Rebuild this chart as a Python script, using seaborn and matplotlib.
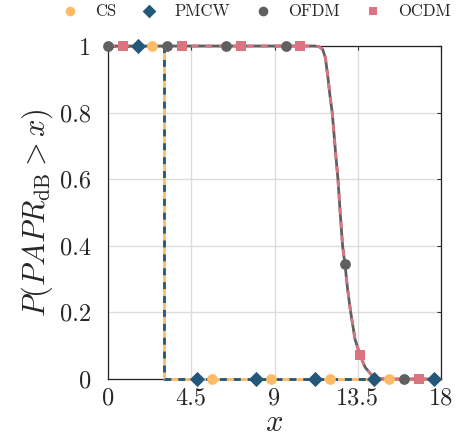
import numpy as np
import pandas as pd
import matplotlib
matplotlib.use("Agg")
import matplotlib.pyplot as plt
import seaborn as sns

# ---- data ----
step_x = [0, 3.0, 3.0, 18]
step_y = [1, 1, 0, 0]

ccdf_x = [0, 11.2, 11.4, 11.6, 11.75, 11.9, 12.0, 12.12, 12.3, 12.43, 12.55,
          12.68, 12.81, 12.95, 13.12, 13.35, 13.62, 13.9, 14.25, 14.6, 15.0, 18]
ccdf_y = [1, 1, 0.998, 0.99, 0.965, 0.9, 0.85, 0.8, 0.68, 0.6, 0.5,
          0.4, 0.344, 0.27, 0.2, 0.12, 0.072, 0.035, 0.012, 0.002, 0, 0]

cs_mx = [2.4, 5.6, 8.8, 12.0, 15.2]
cs_my = [1, 0, 0, 0, 0]
pmcw_mx = [1.6, 4.8, 8.0, 11.2, 14.4, 17.6]
pmcw_my = [1, 0, 0, 0, 0, 0]
ofdm_mx = [0, 3.2, 6.4, 9.6, 12.8, 16.0]
ofdm_my = [1, 1, 1, 1, 0.344, 0]
ocdm_mx = [0.8, 4.0, 7.2, 10.4, 13.6, 16.8]
ocdm_my = [1, 1, 1, 1, 0.072, 0]

labels = ["CS", "PMCW", "OFDM", "OCDM"]
xticks = [0, 4.5, 9, 13.5, 18]
xticklabels = ["0", "4.5", "9", "13.5", "18"]
yticks = [0, 0.2, 0.4, 0.6, 0.8, 1]
yticklabels = ["0", "0.2", "0.4", "0.6", "0.8", "1"]

# ---- style ----
c_cs = "#FDBB66"
c_pmcw = "#23587B"
c_ofdm = "#606060"
c_ocdm = "#DC7380"

sns.set_style("white")
plt.rcParams["font.family"] = "serif"
plt.rcParams["font.serif"] = ["cmr10", "DejaVu Serif"]
plt.rcParams["mathtext.fontset"] = "cm"
plt.rcParams["axes.unicode_minus"] = False
plt.rcParams["axes.formatter.use_mathtext"] = True

fig = plt.figure(figsize=(4.57, 4.40), dpi=100)
ax = fig.add_axes([108 / 457, 61 / 440, 333 / 457, 333 / 440])

lw = 2.0
sns.lineplot(x=step_x, y=step_y, ax=ax, color=c_cs, lw=lw, estimator=None,
             sort=False, zorder=3, clip_on=False)
sns.lineplot(x=step_x, y=step_y, ax=ax, color=c_pmcw, lw=lw, estimator=None,
             sort=False, zorder=3.1, clip_on=False)
ax.lines[-1].set_dashes([2.5, 2.5])
sns.lineplot(x=ccdf_x, y=ccdf_y, ax=ax, color=c_ofdm, lw=lw, estimator=None,
             sort=False, zorder=3.2, clip_on=False)
sns.lineplot(x=ccdf_x, y=ccdf_y, ax=ax, color=c_ocdm, lw=lw, estimator=None,
             sort=False, zorder=3.3, clip_on=False)
ax.lines[-1].set_dashes([2.5, 2.5])

ms = 60
sns.scatterplot(x=cs_mx, y=cs_my, ax=ax, color=c_cs, marker="o", s=ms,
                linewidth=0, label=labels[0], zorder=5, clip_on=False)
sns.scatterplot(x=pmcw_mx, y=pmcw_my, ax=ax, color=c_pmcw, marker="D", s=ms,
                linewidth=0, label=labels[1], zorder=5, clip_on=False)
sns.scatterplot(x=ofdm_mx, y=ofdm_my, ax=ax, color=c_ofdm, marker="o", s=ms,
                linewidth=0, label=labels[2], zorder=5, clip_on=False)
sns.scatterplot(x=ocdm_mx, y=ocdm_my, ax=ax, color=c_ocdm, marker="s", s=ms * 0.75,
                linewidth=0, label=labels[3], zorder=5, clip_on=False)

ax.set_xlim(0, 18)
ax.set_ylim(0, 1)
ax.set_xticks(xticks)
ax.set_xticklabels(xticklabels, fontsize=17.5)
ax.set_yticks(yticks)
ax.set_yticklabels(yticklabels, fontsize=17.5)
ax.tick_params(direction="in", length=3, width=0.8, color="#333333",
               top=True, right=True)
ax.tick_params(axis="y", pad=12)
ax.tick_params(axis="x", pad=6)
ax.grid(True, color="#dddddd", lw=1.0, zorder=0)
ax.set_axisbelow(True)
for sp in ax.spines.values():
    sp.set_color("#222222")
    sp.set_linewidth(0.9)

ax.set_xlabel(r"$x$", fontsize=22, labelpad=0)
ax.set_ylabel(r"$P(PAPR_{\rm dB} > x)$", fontsize=22, labelpad=4)

handles, lbls = ax.get_legend_handles_labels()
if ax.legend_:
    ax.legend_.remove()
fig.legend(handles, lbls, loc="center", bbox_to_anchor=(252 / 457, 1 - 11 / 440),
           ncol=4, frameon=False, fontsize=12, handletextpad=0.5,
           columnspacing=1.0, markerscale=0.9)

fig.savefig("out.png", dpi=100)
